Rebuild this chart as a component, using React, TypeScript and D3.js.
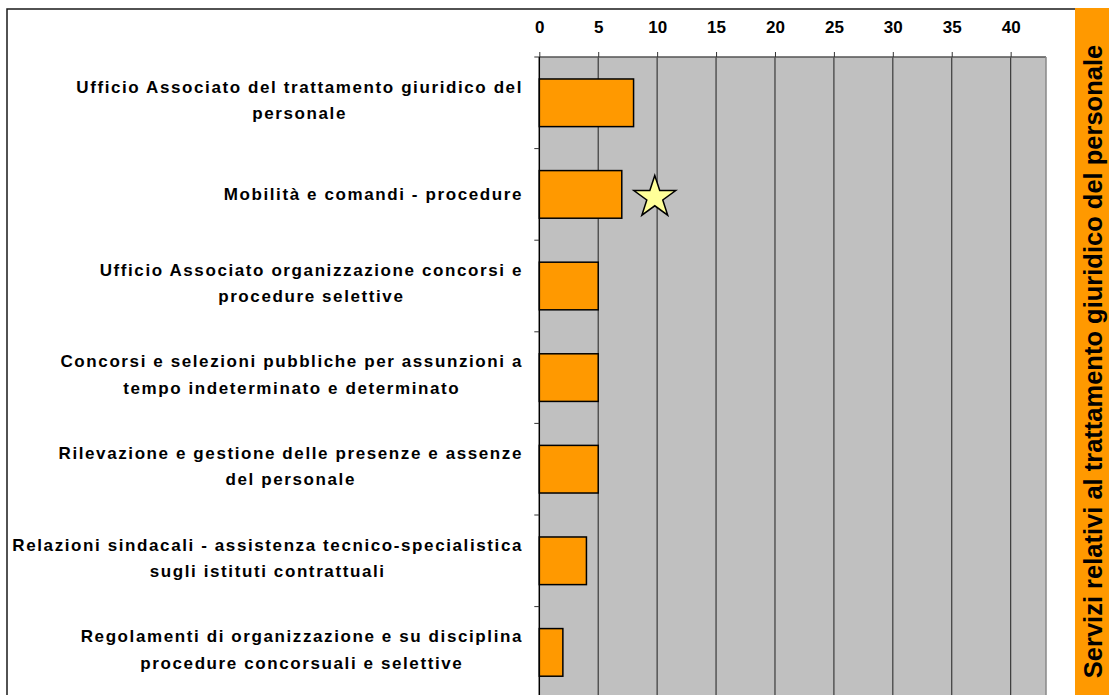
import { useEffect, useRef } from 'react';
import * as d3 from 'd3';

// category labels, one entry per line as shown in the chart
const categories: string[][] = [
    ['Ufficio Associato del trattamento giuridico del', 'personale'],
    ['Mobilità e comandi - procedure'],
    ['Ufficio Associato organizzazione concorsi e', 'procedure selettive'],
    ['Concorsi e selezioni pubbliche per assunzioni a', 'tempo indeterminato e determinato'],
    ['Rilevazione e gestione delle presenze e assenze', 'del personale'],
    ['Relazioni sindacali - assistenza tecnico-specialistica', 'sugli istituti contrattuali'],
    ['Regolamenti di organizzazione e su disciplina', 'procedure concorsuali e selettive'],
];
const values: number[] = [8, 7, 5, 5, 5, 4, 2];
const xTicks: number[] = [0, 5, 10, 15, 20, 25, 30, 35, 40];
const xMax = 43;
const starCategory = 1;
const starValue = 9.8;
const sideTitle = 'Servizi relativi al trattamento giuridico del personale';

const W = 1109;
const H = 695;

export default function App() {
    const svgRef = useRef<SVGSVGElement>(null);

    useEffect(() => {
        const svg = d3.select(svgRef.current);
        svg.selectAll('*').remove();

        const left = 539.3, right = 1046, top = 57, step = 91.6;
        const font = 'Liberation Sans, Arial, sans-serif';

        const x = d3.scaleLinear().domain([0, xMax]).range([left, right]);
        const y = d3.scaleBand<number>()
            .domain(d3.range(categories.length))
            .range([top, top + step * categories.length])
            .paddingInner(0.48)
            .paddingOuter(0.24);

        // outer frame (only top and left edges are visible)
        svg.append('path')
            .attr('d', `M7,695 L7,9 L1075,9`)
            .attr('fill', 'none')
            .attr('stroke', '#1a1a1a')
            .attr('stroke-width', 1.5);

        // orange side band with rotated title
        svg.append('rect')
            .attr('x', 1075).attr('y', 8)
            .attr('width', W - 1075).attr('height', H - 8)
            .attr('fill', '#FF9900');
        svg.append('text')
            .attr('transform', `translate(1102,361.5) rotate(-90)`)
            .attr('text-anchor', 'middle')
            .attr('font-family', font)
            .attr('font-weight', 'bold')
            .attr('font-size', 25.5)
            .attr('fill', '#000')
            .text(sideTitle);

        // plot area
        svg.append('rect')
            .attr('x', left).attr('y', top)
            .attr('width', right - left).attr('height', H - top)
            .attr('fill', '#C0C0C0');

        // gridlines
        svg.append('g')
            .selectAll('line')
            .data(xTicks.filter(d => d > 0))
            .join('line')
            .attr('x1', d => x(d)).attr('x2', d => x(d))
            .attr('y1', top).attr('y2', H)
            .attr('stroke', '#3a3a3a')
            .attr('stroke-width', 1.2);

        // plot border: top dark, right gray
        svg.append('line')
            .attr('x1', left).attr('x2', right)
            .attr('y1', top).attr('y2', top)
            .attr('stroke', '#555').attr('stroke-width', 1.5);
        svg.append('line')
            .attr('x1', right).attr('x2', right)
            .attr('y1', top).attr('y2', H)
            .attr('stroke', '#888').attr('stroke-width', 1.5);

        // bars
        svg.append('g')
            .selectAll('rect')
            .data(values)
            .join('rect')
            .attr('x', x(0))
            .attr('y', (_, i) => y(i)!)
            .attr('width', d => x(d) - x(0))
            .attr('height', y.bandwidth())
            .attr('fill', '#FF9900')
            .attr('stroke', '#000')
            .attr('stroke-width', 1.5);

        // star marker
        svg.append('path')
            .attr('d', d3.symbol(d3.symbolStar, 543)()!)
            .attr('transform', `translate(${x(starValue)},${y(starCategory)! + y.bandwidth() / 2 + 3})`)
            .attr('fill', '#FFFF99')
            .attr('stroke', '#000')
            .attr('stroke-width', 1.5);

        // top axis
        const xAxis = svg.append('g')
            .attr('transform', `translate(0,${top})`)
            .call(d3.axisTop(x).tickValues(xTicks).tickSize(5).tickSizeOuter(0).tickPadding(19));
        xAxis.select('.domain').remove();
        xAxis.selectAll('line').attr('stroke', '#333');
        xAxis.selectAll('text')
            .attr('font-family', font)
            .attr('font-weight', 'bold')
            .attr('font-size', 17)
            .attr('fill', '#000');

        // left axis line and category ticks
        svg.append('line')
            .attr('x1', left).attr('x2', left)
            .attr('y1', top).attr('y2', H)
            .attr('stroke', '#000').attr('stroke-width', 1.5);
        svg.append('g')
            .selectAll('line')
            .data(d3.range(categories.length + 1))
            .join('line')
            .attr('x1', left - 5).attr('x2', left)
            .attr('y1', i => top + i * step).attr('y2', i => top + i * step)
            .attr('stroke', '#333');

        // category labels: block right edge at 523, lines centered on the widest one
        const labels = svg.append('g');
        categories.forEach((lines, i) => {
            const cy = y(i)! + y.bandwidth() / 2;
            const g = labels.append('g');
            const n = lines.length;
            const texts = g.selectAll('text')
                .data(lines)
                .join('text')
                .attr('text-anchor', 'middle')
                .attr('font-family', font)
                .attr('font-weight', 'bold')
                .attr('font-size', 17)
                .attr('letter-spacing', 1.6)
                .attr('fill', '#000')
                .attr('y', (_, j) => cy + (n > 1 ? (j - (n - 1) / 2) * 26.5 - 3 : 0) + 6)
                .text(d => d);
            let maxW = 0;
            texts.each(function () {
                maxW = Math.max(maxW, (this as SVGTextElement).getComputedTextLength());
            });
            texts.attr('x', 523 - maxW / 2);
        });
    }, []);

    return (
        <svg
            ref={svgRef}
            width={W}
            height={H}
            style={{ position: 'absolute', left: 0, top: 0, background: '#fff' }}
        />
    );
}
